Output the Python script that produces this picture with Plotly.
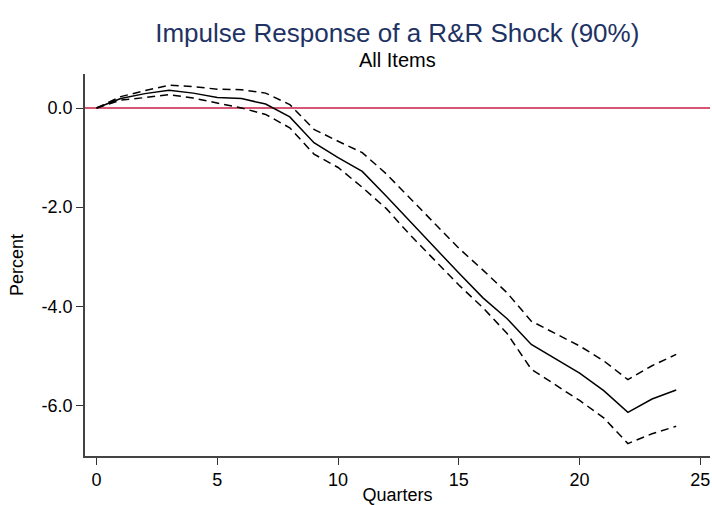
import plotly.graph_objects as go

quarters = list(range(25))
irf = [0, 0.19, 0.29, 0.36, 0.30, 0.21, 0.19, 0.08, -0.18, -0.70, -1.00, -1.28, -1.78,
       -2.30, -2.82, -3.33, -3.83, -4.25, -4.77, -5.06, -5.35, -5.70, -6.14, -5.87, -5.69]
upper = [0, 0.23, 0.35, 0.46, 0.43, 0.38, 0.37, 0.30, 0.07, -0.43, -0.67, -0.90, -1.33,
         -1.83, -2.33, -2.83, -3.27, -3.73, -4.30, -4.55, -4.80, -5.10, -5.48, -5.20, -4.97]
lower = [0, 0.16, 0.21, 0.27, 0.20, 0.10, 0.00, -0.13, -0.40, -0.93, -1.20, -1.60, -2.03,
         -2.57, -3.07, -3.57, -4.03, -4.55, -5.27, -5.58, -5.90, -6.25, -6.77, -6.57, -6.42]

x_ticks = [0, 5, 10, 15, 20, 25]
y_ticks = [0, -2, -4, -6]
y_tick_labels = ["0.0", "-2.0", "-4.0", "-6.0"]

FONT = "Liberation Sans, Arial, sans-serif"
DASH = "8px,5px"

fig = go.Figure()
fig.add_trace(go.Scatter(x=quarters, y=upper, mode="lines",
                         line=dict(color="black", width=1.5, dash=DASH), showlegend=False))
fig.add_trace(go.Scatter(x=quarters, y=lower, mode="lines",
                         line=dict(color="black", width=1.5, dash=DASH), showlegend=False))
fig.add_trace(go.Scatter(x=quarters, y=irf, mode="lines",
                         line=dict(color="black", width=1.5), showlegend=False))
fig.add_hline(y=0, line=dict(color="#c81e46", width=1.5), layer="below")

fig.update_layout(
    width=712, height=505,
    margin=dict(l=85, r=2, t=74, b=46),
    paper_bgcolor="white", plot_bgcolor="white",
    font=dict(family=FONT, size=16, color="black"),
    title=dict(text="Impulse Response of a R&R Shock (90%)", x=0.558, xanchor="center",
               y=1 - 33 / 505, yanchor="middle", yref="container",
               font=dict(size=26, color="#1e3264", family=FONT)),
    annotations=[dict(text="All Items", x=0.5, xref="paper", xanchor="center",
                      y=1.036, yref="paper", yanchor="middle", showarrow=False,
                      font=dict(size=20, color="black", family=FONT))],
    xaxis=dict(range=[-0.48, 25.4], tickvals=x_ticks, ticks="outside", ticklen=7,
               tickwidth=1.2, tickcolor="#333", showline=True, linecolor="#444", linewidth=1.5,
               showgrid=False, zeroline=False,
               title=dict(text="Quarters", standoff=0, font=dict(size=18, family=FONT)),
               tickfont=dict(size=18)),
    yaxis=dict(range=[-7.02, 0.686], tickvals=y_ticks, ticktext=y_tick_labels, ticks="outside",
               ticklen=7, tickwidth=1.2, tickcolor="#333", showline=True, linecolor="#444",
               linewidth=1.5, showgrid=False, zeroline=False,
               title=dict(text="Percent", standoff=13, font=dict(size=18, family=FONT)),
               tickfont=dict(size=18)),
)

fig.write_html("out.html")
